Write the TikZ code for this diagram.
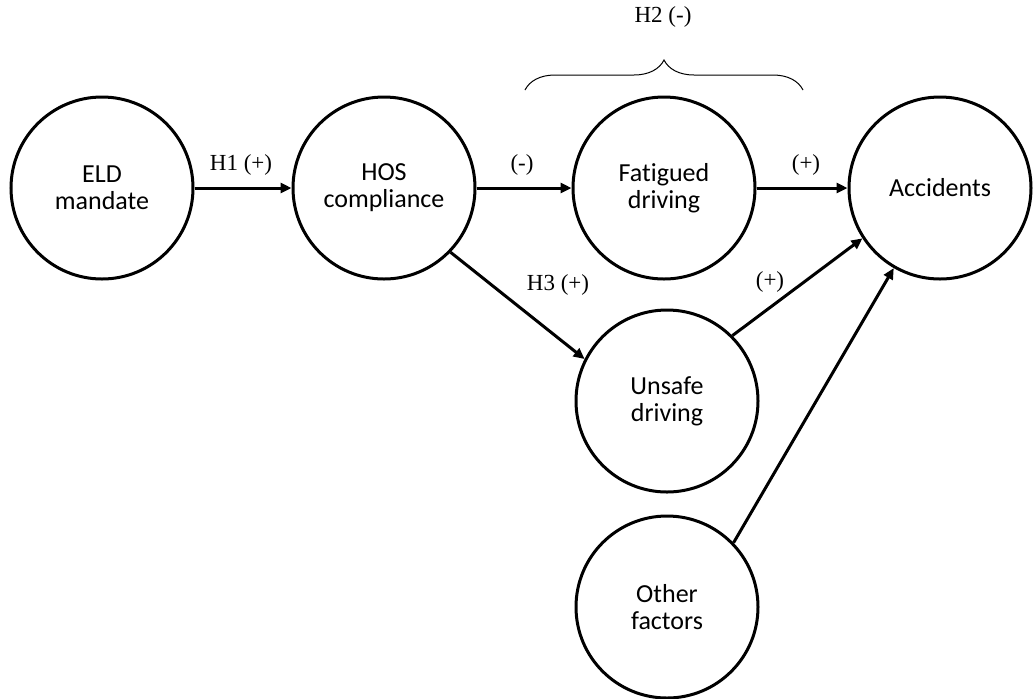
\documentclass[tikz,border=0pt]{standalone}
\usepackage{fontspec}
\setmainfont{Liberation Serif}
\newfontfamily\calfont[Ligatures=NoCommon]{Carlito}
\usetikzlibrary{arrows.meta,decorations.pathreplacing}
\tikzset{
  circ/.style={circle,draw,line width=1.5pt,minimum size=91pt,inner sep=0pt,align=center,
    font=\calfont\fontsize{13}{13.5}\selectfont},
  conn/.style={line width=1.5pt,-{Triangle[length=5.5pt,width=5pt]}},
  lbl/.style={font=\fontsize{11.5}{13}\selectfont,inner sep=0pt}
}
\begin{document}
\begin{tikzpicture}[x=0.5pt,y=-0.5pt]
\useasboundingbox (0,0) rectangle (1034,698);
\node[circ] (eld) at (102,188) {ELD\\mandate};
\node[circ] (hos) at (384,188) {HOS\\compliance};
\node[circ] (fat) at (664,188) {Fatigued\\driving};
\node[circ] (acc) at (940,188) {Accidents};
\node[circ] (uns) at (667,401) {Unsafe\\driving};
\node[circ] (oth) at (667,607) {Other\\factors};
\draw[conn] (eld) -- (hos);
\draw[conn] (hos) -- (fat);
\draw[conn] (fat) -- (acc);
\draw[conn] (hos.-44.6) -- (uns.153);
\draw[conn] (uns.45) -- (acc.213.7);
\draw[conn] (oth.44) -- (acc.240.2);
\node[lbl] (l1) at (241,165) {H1 (+)};
\node[lbl] (l2) at (522,165) {(-)};
\node[lbl] (l3) at (806,165) {(+)};
\node[lbl] (l4) at (558,285) {H3 (+)};
\node[lbl] (l5) at (770,282) {(+)};
\node[lbl] (l6) at (663,17) {H2 (-)};
\coordinate (bl) at (525,90);
\coordinate (br) at (803,90);
\draw[line width=0.5pt,decorate,decoration={brace,amplitude=15pt}] (bl) -- (br);
\end{tikzpicture}
\end{document}
